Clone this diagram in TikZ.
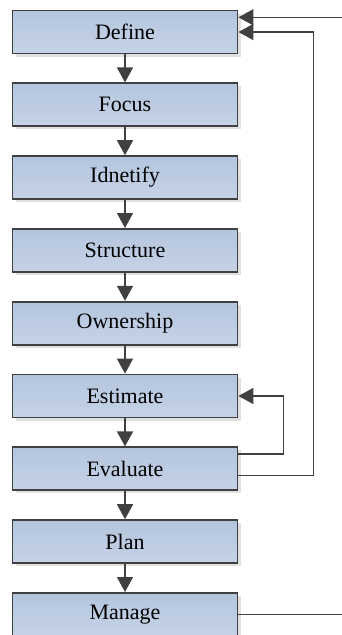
\documentclass[tikz,border=0pt]{standalone}
\usepackage{fontspec}
\setmainfont{Liberation Serif}
\usetikzlibrary{arrows.meta,shadows,calc}
\definecolor{boxtop}{HTML}{B3C5DE}
\definecolor{boxbot}{HTML}{C6D3E6}
\definecolor{edge}{HTML}{404040}
\begin{document}
\begin{tikzpicture}[x=1pt,y=-1pt,
  stage/.style={draw=edge, line width=1.8pt, top color=boxtop, bottom color=boxbot,
    minimum width=225pt, minimum height=43pt, inner sep=0pt,
    font=\fontsize{22}{26}\selectfont,
    drop shadow={shadow xshift=3pt, shadow yshift=-3pt, fill=black, opacity=0.12}},
  flow/.style={draw=edge, line width=1.6pt, -{Triangle[length=15pt,width=16pt]}}]
\useasboundingbox (0,0) rectangle (342,635);
\clip (0,0) rectangle (342,635);

% process stages, top to bottom
\node[stage] (define)    at (125,32.0)  {Define};
\node[stage] (focus)     at (125,104.8) {Focus};
\node[stage] (identify)  at (125,177.6) {Idnetify};
\node[stage] (structure) at (125,250.4) {Structure};
\node[stage] (ownership) at (125,323.2) {Ownership};
\node[stage] (estimate)  at (125,396.0) {Estimate};
\node[stage] (evaluate)  at (125,468.8) {Evaluate};
\node[stage] (plan)      at (125,541.6) {Plan};
\node[stage] (manage)    at (125,614.4) {Manage};

% main sequence
\foreach \a/\b in {define/focus, focus/identify, identify/structure,
                   structure/ownership, ownership/estimate, estimate/evaluate,
                   evaluate/plan, plan/manage}
  \draw[flow] (\a.south) -- (\b.north);

% feedback loops
\draw[flow] ($(evaluate.east)+(0,-15)$) -- ++(45,0) |- (estimate.east);
\draw[flow] ($(evaluate.east)+(0,6.8)$) -- ++(75,0) |- (define.east);

% return from Manage, routed outside the frame
\coordinate (ret) at (370,17.3);
\draw[flow] (manage.east) -- (manage.east -| ret) -- (ret) -- (ret -| define.east);
\end{tikzpicture}
\end{document}
